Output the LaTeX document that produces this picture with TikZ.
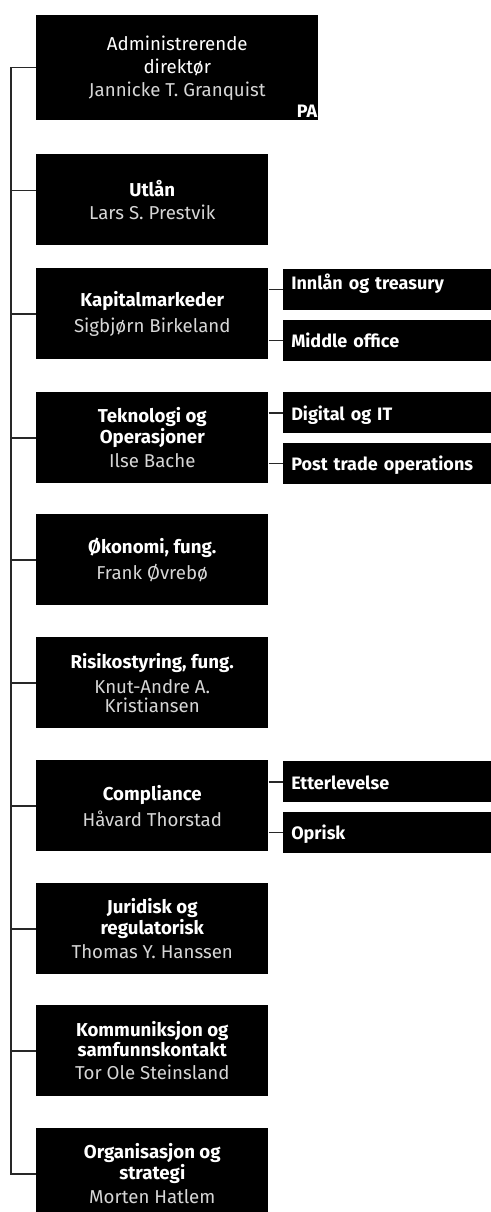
\documentclass[tikz,border=0pt]{standalone}
\usepackage{amsmath,amssymb}
\usepackage{fontspec}
\setmainfont{Fira Sans}
\usetikzlibrary{positioning,calc}

\definecolor{namegray}{RGB}{214,214,214}
\definecolor{linegray}{RGB}{40,40,40}

\tikzset{
  unit/.style={fill=black, text=white, anchor=north west, inner sep=0pt,
    minimum width=174pt, minimum height=68.25pt, align=center,
    font=\fontsize{14}{13.25}\selectfont\bfseries},
  sub/.style={fill=black, text=white, anchor=north west, inner xsep=6pt, inner ysep=0pt,
    text width=159pt, text height=21pt, text depth=9.75pt, align=left,
    font=\fontsize{13.5}{14}\selectfont\bfseries},
  link/.style={draw=linegray, line width=1.1pt},
}
\newcommand{\who}[1]{{\mdseries\color{namegray}#1}}

\begin{document}
\begin{tikzpicture}[x=0.75pt,y=0.75pt,yscale=-1,xscale=1]
\useasboundingbox (0,0) rectangle (491,1212);

%Shape: Rectangle (top)
\node[unit, minimum width=211.5pt, minimum height=78.75pt, font=\fontsize{14}{13.25}\selectfont] (adm) at (36,15)
  {Administrerende\\[4pt]direktør\\[4pt]\who{Jannicke T. Granquist}};
\node[anchor=base east, inner sep=0pt, text=white, font=\fontsize{13.5}{14}\selectfont\bfseries] (pa)
  at ($(adm.south east)+(-1,-3)$) {PA};

%Shape: Rectangles (units)
\node[unit] (utlan) at (36,154) {Utlån\\[4pt]\who{Lars S. Prestvik}};
\node[unit] (kapital) at (36,268) {Kapitalmarkeder\\[4pt]\who{Sigbjørn Birkeland}};
\node[unit] (tekn) at (36,392) {Teknologi og\\Operasjoner\\[4pt]\who{Ilse Bache}};
\node[unit] (okon) at (36,514) {Økonomi, fung.\\[4pt]\who{Frank Øvrebø}};
\node[unit] (risiko) at (36,637) {Risikostyring, fung.\\[4pt]\who{Knut-Andre A.}\\[1pt]\who{Kristiansen}};
\node[unit] (compl) at (36,760) {Compliance\\[4pt]\who{Håvard Thorstad}};
\node[unit] (jur) at (36,883) {Juridisk og\\regulatorisk\\[4pt]\who{Thomas Y. Hanssen}};
\node[unit] (komm) at (36,1005) {Kommuniksjon og\\samfunnskontakt\\[4pt]\who{Tor Ole Steinsland}};
\node[unit] (org) at (36,1128) {Organisasjon og\\strategi\\[4pt]\who{Morten Hatlem}};

%Shape: Rectangles (sub units)
\node[sub, text height=15pt, text depth=15.75pt] (innlan) at (283,269) {Innlån og treasury};
\node[sub, below=6.75pt of innlan] (middle) {Middle office};
\node[sub] (digital) at (283,392) {Digital og IT};
\node[sub, below=6.75pt of digital] (posttrade) {Post trade operations};
\node[sub] (etter) at (283,761) {Etterlevelse};
\node[sub, below=6.75pt of etter] (oprisk) {Oprisk};

%Straight Lines
\coordinate (spine) at (11,70);
\coordinate (utlanin) at ($(utlan.west)+(0,-9.5)$);
\draw[link] (adm.west) -- (adm.west -| spine) -- (org.west -| spine) -- (org.west);
\draw[link] (utlanin -| spine) -- (utlanin);
\foreach \n in {kapital,tekn,okon,risiko,compl,jur,komm}
  \draw[link] (\n.west -| spine) -- (\n.west);
\foreach \a/\b in {kapital/innlan,kapital/middle,tekn/digital,tekn/posttrade,compl/etter,compl/oprisk}
  \draw[link] (\b.west -| \a.east) -- (\b.west);

\end{tikzpicture}
\end{document}
